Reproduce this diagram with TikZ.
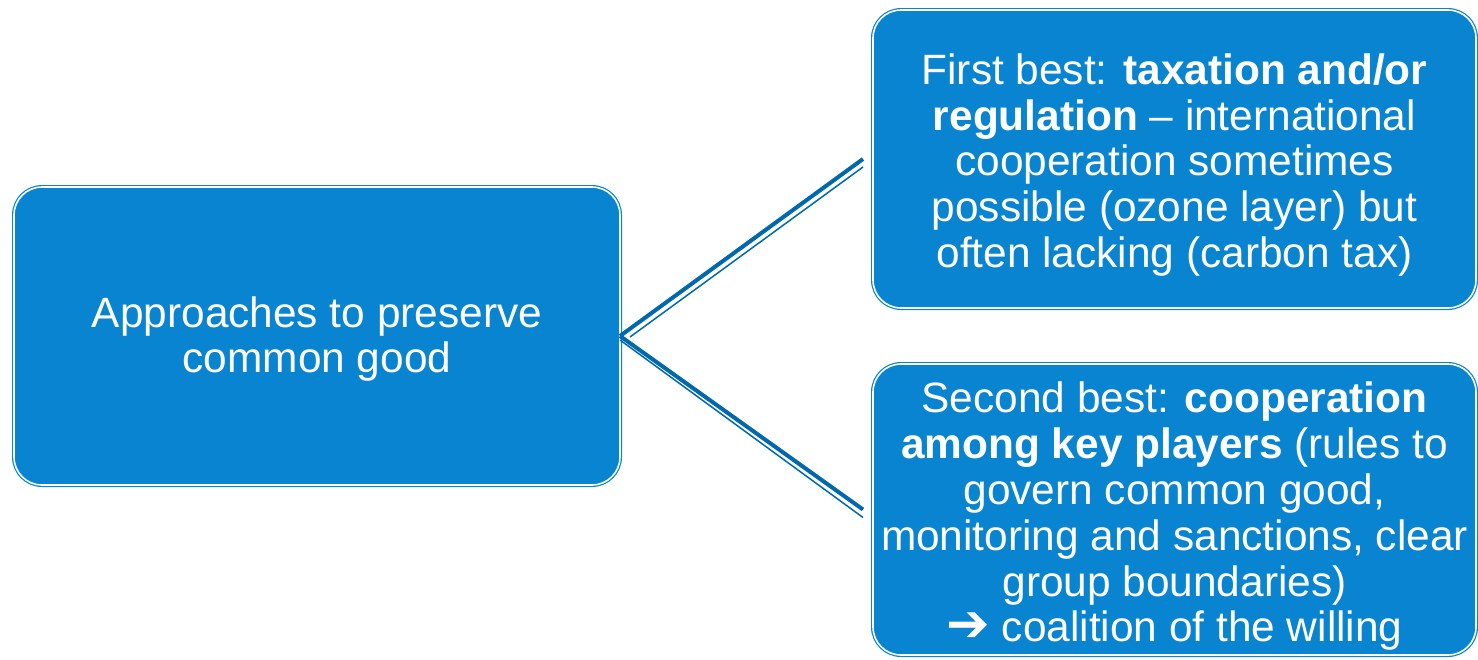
\documentclass[tikz,border=0pt]{standalone}
\usepackage{fontspec}
\setmainfont{Liberation Sans}
\newfontfamily\arrowfont{DejaVu Sans}
\definecolor{boxblue}{RGB}{8,132,208}
\definecolor{linkblue}{RGB}{0,104,172}
\tikzset{
	ansatz/.style={rectangle, rounded corners=14pt, fill=boxblue, draw=boxblue, double=white, double distance=0.8pt, line width=0.6pt, inner sep=0pt, outer sep=0pt},
	ansatztext/.style={text=white, align=center, font=\fontsize{21.2}{22.9}\selectfont, inner sep=0pt},
	linkdick/.style={linkblue, line width=2pt},
	linkduenn/.style={linkblue, line width=0.75pt}
}
\begin{document}
\begin{tikzpicture}[x=0.5pt,y=-0.5pt]
		\useasboundingbox (0,0) rectangle (1478,659);
		
		\node[ansatz, minimum width=303pt, minimum height=149pt] at (317,336) (ansaetze) {};
		\node[ansatz, minimum width=301.5pt, minimum height=149pt] at (1174.5,159) (erstbest) {};
		\node[ansatz, minimum width=301.5pt, minimum height=145.5pt] at (1174.5,509.5) (zweitbest) {};
		
		\node[ansatztext, yshift=-1.5pt] at (ansaetze.center) (ansaetzetext) {Approaches to preserve\\common good};
		\node[ansatztext, yshift=-3pt] at (erstbest.center) (erstbesttext) {First best: \textbf{taxation and/or}\\\textbf{regulation} -- international\\cooperation sometimes\\possible (ozone layer) but\\often lacking (carbon tax)};
		\node[ansatztext, yshift=-3.5pt] at (zweitbest.center) (zweitbesttext) {Second best: \textbf{cooperation}\\\textbf{among key players} (rules to\\govern common good,\\monitoring and sanctions, clear\\group boundaries)\\{\arrowfont\fontsize{26}{22.9}\selectfont ➔} coalition of the willing};
		
		\draw[linkdick] (ansaetze.east) -- ([xshift=-5pt]erstbest.west);
		\draw[linkdick] (ansaetze.east) -- ([xshift=-5pt]zweitbest.west);
		
		\draw[linkduenn] ([shift={(5pt,-0.5pt)}]ansaetze.east) -- ([shift={(-5pt,-4pt)}]erstbest.west);
		\draw[linkduenn] ([yshift=-2pt]ansaetze.east) -- ([shift={(-5pt,-4pt)}]zweitbest.west);
\end{tikzpicture}
\end{document}
